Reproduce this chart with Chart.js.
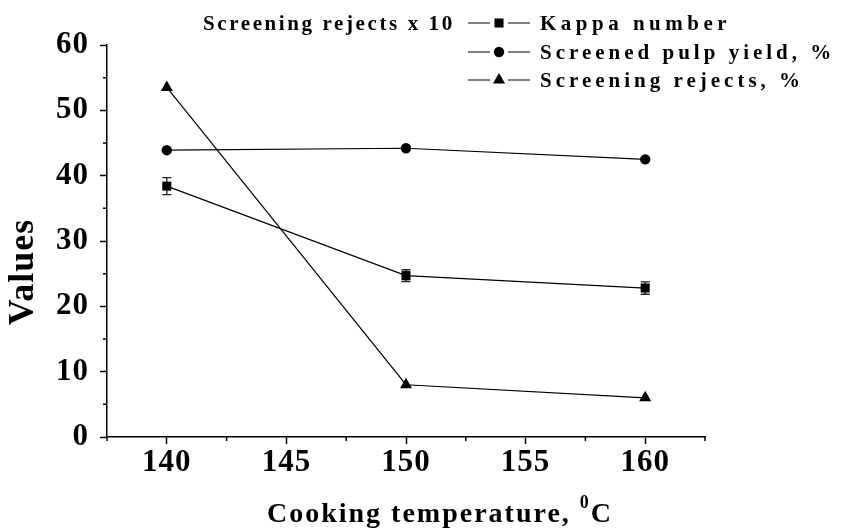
<!DOCTYPE html>
<html>
<head>
<meta charset="utf-8">
<script src="https://cdn.jsdelivr.net/npm/chart.js@4.4.0/dist/chart.umd.min.js"></script>
<style>
  html, body { margin: 0; padding: 0; background: #fff; }
  #wrap { width: 842px; height: 529px; position: relative; }
</style>
</head>
<body>
<div id="wrap"><canvas id="chart"></canvas></div>
<script>
// Cooking temperature series
const TEMPS = [140, 150, 160];
const KAPPA = [38.4, 24.7, 22.8];
const KAPPA_ERR = [1.3, 0.9, 0.95];
const YIELD = [43.9, 44.2, 42.5];
const REJECTS_X10 = [53.5, 8.0, 6.0];

const X_TICKS = [140, 145, 150, 155, 160];
const X_MINOR = [137.5, 142.5, 147.5, 152.5, 157.5, 162.5];
const Y_TICKS = [0, 10, 20, 30, 40, 50, 60];
const Y_MINOR = [5, 15, 25, 35, 45, 55];

const SERIES_LABELS = ['Kappa number', 'Screened pulp yield, %', 'Screening rejects, %'];
const NOTE = 'Screening rejects x 10';
const X_TITLE = 'Cooking temperature, ';
const X_TITLE_SUP = '0';
const X_TITLE_END = 'C';
const Y_TITLE = 'Values';

const SERIF = '"Liberation Serif", "Times New Roman", serif';
const POINT_STYLES = ['rect', 'circle', 'triangle'];
const POINT_RADII = [6.4, 5.2, 7];

const pts = vals => TEMPS.map((t, i) => ({ x: t, y: vals[i] }));

const extras = {
  id: 'extras',
  beforeDraw(chart) {
    chart.ctx.letterSpacing = '1px';
  },
  beforeDatasetsDraw(chart) {
    // error bars on kappa number
    const { ctx, scales: { x, y } } = chart;
    ctx.save();
    ctx.letterSpacing = '0px';
    ctx.strokeStyle = '#222';
    ctx.lineWidth = 1.3;
    TEMPS.forEach((t, i) => {
      const px = x.getPixelForValue(t);
      const top = y.getPixelForValue(KAPPA[i] + KAPPA_ERR[i]);
      const bot = y.getPixelForValue(KAPPA[i] - KAPPA_ERR[i]);
      ctx.beginPath();
      ctx.moveTo(px, top); ctx.lineTo(px, bot);
      ctx.moveTo(px - 4.5, top); ctx.lineTo(px + 4.5, top);
      ctx.moveTo(px - 4.5, bot); ctx.lineTo(px + 4.5, bot);
      ctx.stroke();
    });
    ctx.restore();
  },
  afterDraw(chart) {
    const { ctx, scales: { x, y } } = chart;
    ctx.save();
    ctx.letterSpacing = '0px';
    ctx.strokeStyle = '#000';
    ctx.lineWidth = 1.5;
    // minor ticks
    ctx.beginPath();
    X_MINOR.forEach(v => {
      const px = x.getPixelForValue(v);
      ctx.moveTo(px, chart.chartArea.bottom); ctx.lineTo(px, chart.chartArea.bottom + 4);
    });
    Y_MINOR.forEach(v => {
      const py = y.getPixelForValue(v);
      ctx.moveTo(chart.chartArea.left, py); ctx.lineTo(chart.chartArea.left - 4, py);
    });
    ctx.stroke();

    // legend
    ctx.fillStyle = '#000';
    ctx.font = 'bold 21px ' + SERIF;
    ctx.textBaseline = 'alphabetic';
    ctx.textAlign = 'left';
    const rows = [23, 52, 80];
    SERIES_LABELS.forEach((lab, i) => {
      const cy = rows[i];
      ctx.lineWidth = 1;
      ctx.beginPath();
      ctx.moveTo(468, cy); ctx.lineTo(490, cy);
      ctx.moveTo(508, cy); ctx.lineTo(530, cy);
      ctx.stroke();
      Chart.helpers.drawPoint(ctx, { pointStyle: POINT_STYLES[i], radius: POINT_RADII[i], rotation: 0, borderWidth: 0 }, 499, cy);
      ctx.fillStyle = '#000';
      ctx.letterSpacing = i === 0 ? '4.5px' : '4px';
      ctx.fillText(lab, 540, cy + 7);
    });
    ctx.letterSpacing = '2.6px';
    ctx.fillText(NOTE, 203, rows[0] + 7);

    // y title
    ctx.save();
    ctx.translate(24, 272);
    ctx.rotate(-Math.PI / 2);
    ctx.font = 'bold 36px ' + SERIF;
    ctx.letterSpacing = '1px';
    ctx.textAlign = 'center';
    ctx.textBaseline = 'middle';
    ctx.fillText(Y_TITLE, 0, 0);
    ctx.restore();

    // x title with superscript
    ctx.letterSpacing = '2px';
    ctx.textAlign = 'left';
    ctx.textBaseline = 'alphabetic';
    const big = 'bold 28px ' + SERIF, small = 'bold 18px ' + SERIF;
    ctx.font = big; const w1 = ctx.measureText(X_TITLE).width;
    const w3 = ctx.measureText(X_TITLE_END).width;
    ctx.font = small; const w2 = ctx.measureText(X_TITLE_SUP).width;
    let tx = 440 - (w1 + w2 + w3) / 2;
    ctx.font = big; ctx.fillText(X_TITLE, tx, 522); tx += w1;
    ctx.font = small; ctx.fillText(X_TITLE_SUP, tx, 508); tx += w2;
    ctx.font = big; ctx.fillText(X_TITLE_END, tx, 522);
    ctx.restore();
    chart.ctx.letterSpacing = '0px';
  }
};

const makeSet = (label, vals, i) => ({
  label,
  data: pts(vals),
  borderColor: '#000',
  backgroundColor: '#000',
  borderWidth: 1.2,
  pointStyle: POINT_STYLES[i],
  pointRadius: POINT_RADII[i],
  pointBorderWidth: 0,
  tension: 0
});

const tickFont = { family: SERIF, size: 31, weight: 'bold' };

new Chart(document.getElementById('chart'), {
  type: 'line',
  data: {
    datasets: [
      makeSet(SERIES_LABELS[0], KAPPA, 0),
      makeSet(SERIES_LABELS[1], YIELD, 1),
      makeSet(SERIES_LABELS[2], REJECTS_X10, 2)
    ]
  },
  options: {
    responsive: true,
    maintainAspectRatio: false,
    animation: false,
    layout: { padding: { top: 45, right: 137, bottom: 0, left: 0 } },
    plugins: { legend: { display: false }, tooltip: { enabled: false } },
    scales: {
      x: {
        type: 'linear',
        min: 137.5, max: 162.5,
        afterBuildTicks: s => { s.ticks = X_TICKS.map(v => ({ value: v })); },
        afterFit: s => { s.height = 92; },
        grid: { drawOnChartArea: false, drawTicks: true, tickLength: 7, tickColor: '#000', tickWidth: 1.5 },
        border: { color: '#000', width: 1.5 },
        ticks: { color: '#000', font: tickFont, padding: 0, maxRotation: 0, autoSkip: false }
      },
      y: {
        type: 'linear',
        min: 0, max: 60,
        afterBuildTicks: s => { s.ticks = Y_TICKS.map(v => ({ value: v })); },
        afterFit: s => { s.width = 107; },
        grid: { drawOnChartArea: false, drawTicks: true, tickLength: 7, tickColor: '#000', tickWidth: 1.5 },
        border: { color: '#000', width: 1.5 },
        ticks: { color: '#000', font: tickFont, padding: 11 }
      }
    }
  },
  plugins: [extras]
});
</script>
</body>
</html>
